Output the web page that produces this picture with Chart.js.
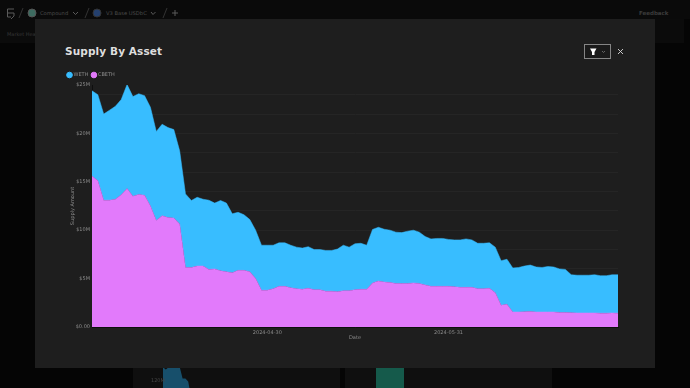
<!DOCTYPE html>
<html>
<head>
<meta charset="utf-8">
<title>Supply By Asset</title>
<script src="https://cdn.jsdelivr.net/npm/chart.js@4/dist/chart.umd.min.js"></script>
<style>
  html, body { margin: 0; padding: 0; background: #050505; overflow: hidden; }
  body { width: 690px; height: 388px; position: relative; font-family: "DejaVu Sans", sans-serif; }
  .abs { position: absolute; white-space: nowrap; }
  #topbar { left: 0; top: 0; width: 690px; height: 19px; background: #0a0a0a; }
  #subbar { left: 0; top: 19px; width: 684px; height: 24px; background: #0b0b0b; }
  .card { top: 360px; width: 207px; height: 28px; background: #0f0f0f; }
  .dim { color: #4c4c4c; font-size: 5.2px; line-height: 8px; }
  #modal { left: 35px; top: 19px; width: 620px; height: 349px; background: #1e1e1e; }
  #title { left: 65px; top: 43px; font-size: 10.5px; line-height: 16px; font-weight: bold; color: #dedede; letter-spacing: 0.12px; }
  #filter { left: 584px; top: 44px; width: 25px; height: 13px; border: 1px solid #858585; background: #1a1a1a; }
  canvas { display: block; }
</style>
</head>
<body>
<div class="abs" id="topbar"></div>
<div class="abs" id="subbar"></div>
<div class="abs card" style="left:133px"></div>
<div class="abs card" style="left:345px"></div>
<div class="abs" style="left:163px;top:360px;width:28px;height:28px"><canvas id="miniBlue" width="28" height="28"></canvas></div>
<div class="abs" style="left:376px;top:360px;width:28px;height:28px"><canvas id="miniTeal" width="28" height="28"></canvas></div>
<div class="abs" style="left:151px;top:377px;font-size:5px;color:#444">120M</div>

<svg class="abs" style="left:0;top:0" width="190" height="26" fill="none" stroke="#5a5a5a" stroke-width="1">
  <path d="M14 9H7.5V17H11M8 13H14V16L11 19" />
  <path d="M19 18L23 8M85 18L89 8M163 18L167 8" stroke="#333" />
  <circle cx="32" cy="13" r="4" fill="#3d6b60" stroke="#555" />
  <circle cx="97" cy="13" r="4" fill="#24406e" stroke="#333" />
  <path d="M73 12L75.5 14.5L78 12M151 12L153 14.5L155.500 12" />
  <path d="M175 10V16M172 13H178" />
</svg>
<div class="abs dim" style="left:40px;top:9px">Compound</div>
<div class="abs dim" style="left:106px;top:9px">V3 Base USDbC</div>
<div class="abs dim" style="left:639px;top:8.500px;font-weight:bold;font-size:5.500px;color:#3c3c3c">Feedback</div>
<div class="abs dim" style="left:7px;top:30px;font-size:5px;color:#363636">Market Health</div>

<div class="abs" id="modal"></div>
<div class="abs" id="title">Supply By Asset</div>
<div class="abs" id="filter"></div>
<svg class="abs" style="left:584px;top:44px" width="45" height="15" fill="none">
  <path d="M6 4.500H12.500L10.500 8V11H8V8Z" fill="#ffffff" />
  <path d="M18 7L19.500 8.500L21 7" stroke="#777" stroke-width="0.8" />
  <path d="M34 5L39 10M39 5L34 10" stroke="#d8d8d8" stroke-width="0.9" />
</svg>
<div class="abs" style="left:0;top:0;width:690px;height:388px"><canvas id="chart" width="690" height="388"></canvas></div>

<script>
// daily dates, 2024-03-31 .. 2024-06-29
const startDate = '2024-03-31';
const tickDates = ['2024-04-30', '2024-05-31'];
const yLabelEvery = 5;
const yGridEvery = 2;

// $M
const cbeth = [15.6,15.1,13.1,13.1,13.2,13.65,14.3,13.5,13.7,13.6,12.5,11.0,11.5,11.3,11.25,10.65,
  6.15,6.15,6.3,6.3,5.95,6.0,5.8,5.7,5.6,5.85,5.85,5.7,5.0,3.8,3.8,3.95,4.2,4.2,4.05,3.95,3.9,4.0,
  3.85,3.85,3.7,3.7,3.65,3.75,3.75,3.85,3.9,3.9,4.55,4.75,4.65,4.6,4.5,4.5,4.5,4.55,4.5,4.35,4.2,
  4.2,4.2,4.2,4.15,4.1,4.1,4.1,3.95,3.95,4.0,3.55,2.25,2.35,1.55,1.55,1.57,1.6,1.55,1.55,1.55,1.55,
  1.5,1.5,1.47,1.45,1.45,1.45,1.45,1.43,1.43,1.45,1.43];
const weth = [8.8,8.9,8.9,9.3,9.6,9.85,10.75,10.3,10.4,10.3,10.2,9.2,9.45,9.3,9.15,7.55,
  7.6,6.92,7.1,6.9,7.15,6.8,7.27,7.1,6.1,6.0,5.75,5.4,5.0,4.65,4.65,4.5,4.5,4.5,4.4,4.3,4.25,4.3,
  4.15,4.15,4.2,4.2,4.4,4.7,4.5,4.75,4.75,4.55,5.53,5.55,5.45,5.4,5.3,5.25,5.4,5.45,5.3,5.0,4.9,
  4.95,4.95,4.85,4.85,4.9,5.0,4.9,4.7,4.7,4.7,4.7,4.6,4.65,4.55,4.6,4.73,4.8,4.65,4.6,4.7,4.65,
  4.5,4.45,3.93,3.9,3.9,3.9,3.95,3.87,3.87,3.95,3.97];

// faded cards behind the modal
const miniBlueValues = [136,133,136,136,136,136,136,122,122,118,100];
const miniTealValues = [136,136];

const dates = cbeth.map((v, i) => {
    const d = new Date(startDate + 'T00:00:00Z');
    d.setUTCDate(d.getUTCDate() + i);
    return d.toISOString().slice(0, 10);
});

const tickColor = '#8c8c8c';
const tinyFont = { family: '"DejaVu Sans", sans-serif', size: 5 };

// legend sits a bit lower than the layout leaves it
const nudgeLegend = {
    id: 'nudgeLegend',
    afterLayout: (chart) => { chart.legend.top += 2.5; }
};

new Chart(document.getElementById('chart'), {
    type: 'line',
    data: {
        labels: dates,
        datasets: [
            { label: 'CBETH', data: cbeth.map(v => v * 1000000), backgroundColor: '#e27afb', borderColor: '#e27afb', fill: 'origin' },
            { label: 'WETH', data: weth.map(v => v * 1000000), backgroundColor: '#38bdff', borderColor: '#38bdff', fill: '-1' }
        ]
    },
    plugins: [nudgeLegend],
    options: {
        responsive: false,
        animation: false,
        layout: { padding: { left: 64, right: 72, top: 66, bottom: 47 } },
        elements: { point: { radius: 0 }, line: { borderWidth: 0.5, tension: 0 } },
        plugins: {
            tooltip: { enabled: false },
            legend: {
                align: 'start',
                reverse: true,
                labels: {
                    usePointStyle: true,
                    pointStyle: 'circle',
                    boxWidth: 3,
                    boxHeight: 4,
                    padding: 4,
                    color: '#8c8c8c',
                    font: tinyFont
                }
            }
        },
        scales: {
            x: {
                grid: { display: false, drawTicks: false },
                border: { color: '#0e0e0e', width: 1 },
                title: { display: true, text: 'Date', color: tickColor, font: tinyFont, padding: { top: -4, bottom: 0 } },
                ticks: {
                    autoSkip: false,
                    maxRotation: 0,
                    color: tickColor,
                    font: tinyFont,
                    padding: 3,
                    callback: function (value) {
                        const d = this.getLabelForValue(value);
                        return tickDates.includes(d) ? d : '';
                    }
                }
            },
            y: {
                stacked: true,
                min: 0,
                max: 25000000,
                afterFit: (s) => { s.width = 28; },
                grid: {
                    drawTicks: false,
                    color: (c) => (c.tick.value / 1000000) % yGridEvery === 0 ? '#252525' : 'transparent'
                },
                border: { color: '#0e0e0e', width: 1 },
                title: { display: true, text: 'Supply Amount', color: tickColor, font: tinyFont, padding: { top: 6, bottom: 0 } },
                ticks: {
                    autoSkip: false,
                    stepSize: 1000000,
                    color: tickColor,
                    font: tinyFont,
                    padding: 2,
                    callback: (value) => {
                        if (value === 0) return '$0.00';
                        const m = value / 1000000;
                        return m % yLabelEvery === 0 ? '$' + m + 'M' : '';
                    }
                }
            }
        }
    }
});

function miniChart(id, values, color) {
    new Chart(document.getElementById(id), {
        type: 'line',
        data: {
            labels: values.map((v, i) => i),
            datasets: [{ data: values, backgroundColor: color, borderWidth: 0, fill: 'origin', pointRadius: 0 }]
        },
        options: {
            responsive: false,
            animation: false,
            plugins: { legend: { display: false }, tooltip: { enabled: false } },
            scales: {
                x: { display: false },
                y: { display: false, min: 110, max: 145 }
            }
        }
    });
}
miniChart('miniBlue', miniBlueValues, '#174f6b');
miniChart('miniTeal', miniTealValues, '#155a4b');
</script>
</body>
</html>
